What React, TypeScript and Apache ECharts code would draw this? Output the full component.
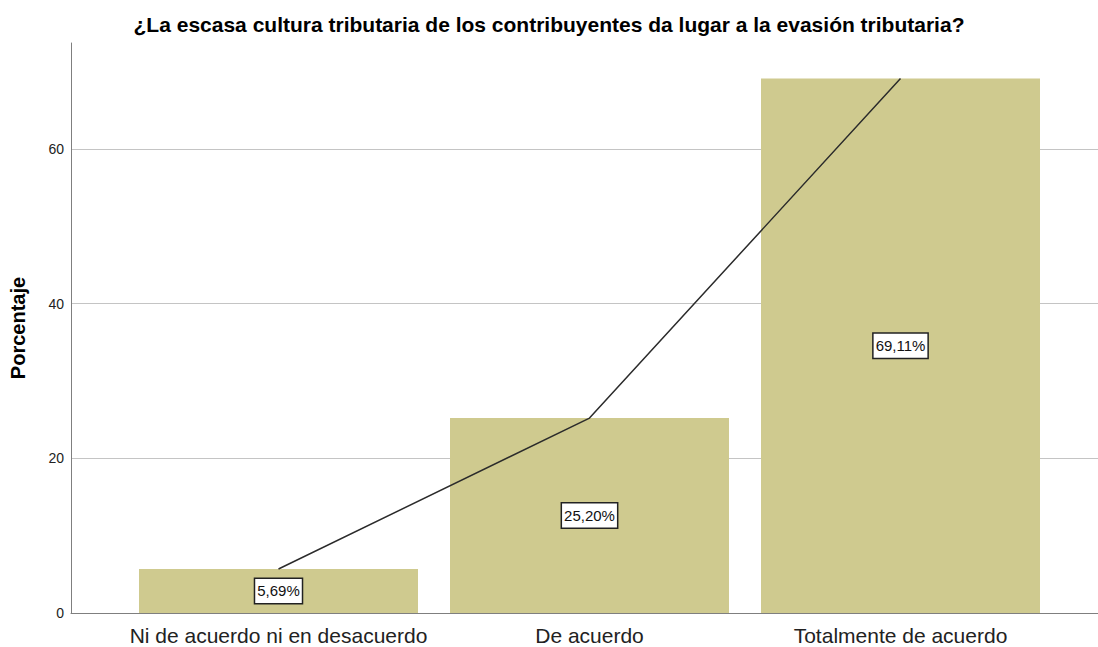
import React, { useEffect, useRef } from "react";
import * as echarts from "echarts";

const categories = ["Ni de acuerdo ni en desacuerdo", "De acuerdo", "Totalmente de acuerdo"];
const percentages = [5.69, 25.2, 69.11];
const yMax = 73.7;

export default function App() {
  const ref = useRef<HTMLDivElement>(null);
  useEffect(() => {
    if (!ref.current) return;
    const chart = echarts.init(ref.current, null, { renderer: "svg" });
    const font = "'Liberation Sans', Arial, sans-serif";
    chart.setOption({
      animation: false,
      title: {
        text: "¿La escasa cultura tributaria de los contribuyentes da lugar a la evasión tributaria?",
        left: "center",
        top: 9,
        textStyle: { fontFamily: font, fontSize: 21, fontWeight: "bold", color: "#000" },
      },
      grid: [
        { left: 71, right: 0, top: 43, bottom: 34 },
        { left: 123, right: 42, top: 43, bottom: 34 },
      ],
      xAxis: [
        {
          type: "value",
          gridIndex: 0,
          min: 0,
          max: 1,
          axisLine: { show: true, lineStyle: { color: "#7f7f7f", width: 1 } },
          axisTick: { show: false },
          axisLabel: { show: false },
          splitLine: { show: false },
        },
        {
          type: "category",
          gridIndex: 1,
          data: categories,
          axisLine: { show: false },
          axisTick: { show: false },
          axisLabel: { interval: 0, fontFamily: font, fontSize: 21, color: "#222", margin: 12 },
          splitLine: { show: false },
        },
      ],
      yAxis: [
        {
          type: "value",
          gridIndex: 0,
          min: 0,
          max: yMax,
          interval: 20,
          name: "Porcentaje",
          nameLocation: "middle",
          nameGap: 43,
          nameTextStyle: { fontFamily: font, fontSize: 20, fontWeight: "bold", color: "#000" },
          axisLine: { show: true, lineStyle: { color: "#7f7f7f", width: 1 } },
          axisTick: { show: false },
          axisLabel: { fontFamily: font, fontSize: 14, color: "#222", margin: 7, showMaxLabel: false },
          splitLine: { show: true, showMinLine: false, showMaxLine: false, lineStyle: { color: "#c4c4c4", width: 1 } },
        },
        {
          type: "value",
          gridIndex: 1,
          min: 0,
          max: yMax,
          show: false,
          splitLine: { show: false },
        },
      ],
      series: [
        {
          type: "bar",
          xAxisIndex: 1,
          yAxisIndex: 1,
          data: percentages,
          barWidth: 279,
          itemStyle: { color: "#cfca8f" },
          label: {
            show: true,
            position: "inside",
            formatter: (p: any) => p.value.toFixed(2).replace(".", ",") + "%",
            fontFamily: font,
            fontSize: 15,
            color: "#111",
            backgroundColor: "#fff",
            borderColor: "#222",
            borderWidth: 1.5,
            padding: [5, 2, 4, 2],
          },
          z: 2,
        },
        {
          type: "line",
          xAxisIndex: 1,
          yAxisIndex: 1,
          data: percentages,
          symbol: "none",
          lineStyle: { color: "#2b2b2b", width: 1.5 },
          z: 3,
        },
      ],
    });
    return () => chart.dispose();
  }, []);
  return (
    <div
      ref={ref}
      style={{ position: "fixed", left: 0, top: 0, width: 1098, height: 647, background: "#fff" }}
    />
  );
}
